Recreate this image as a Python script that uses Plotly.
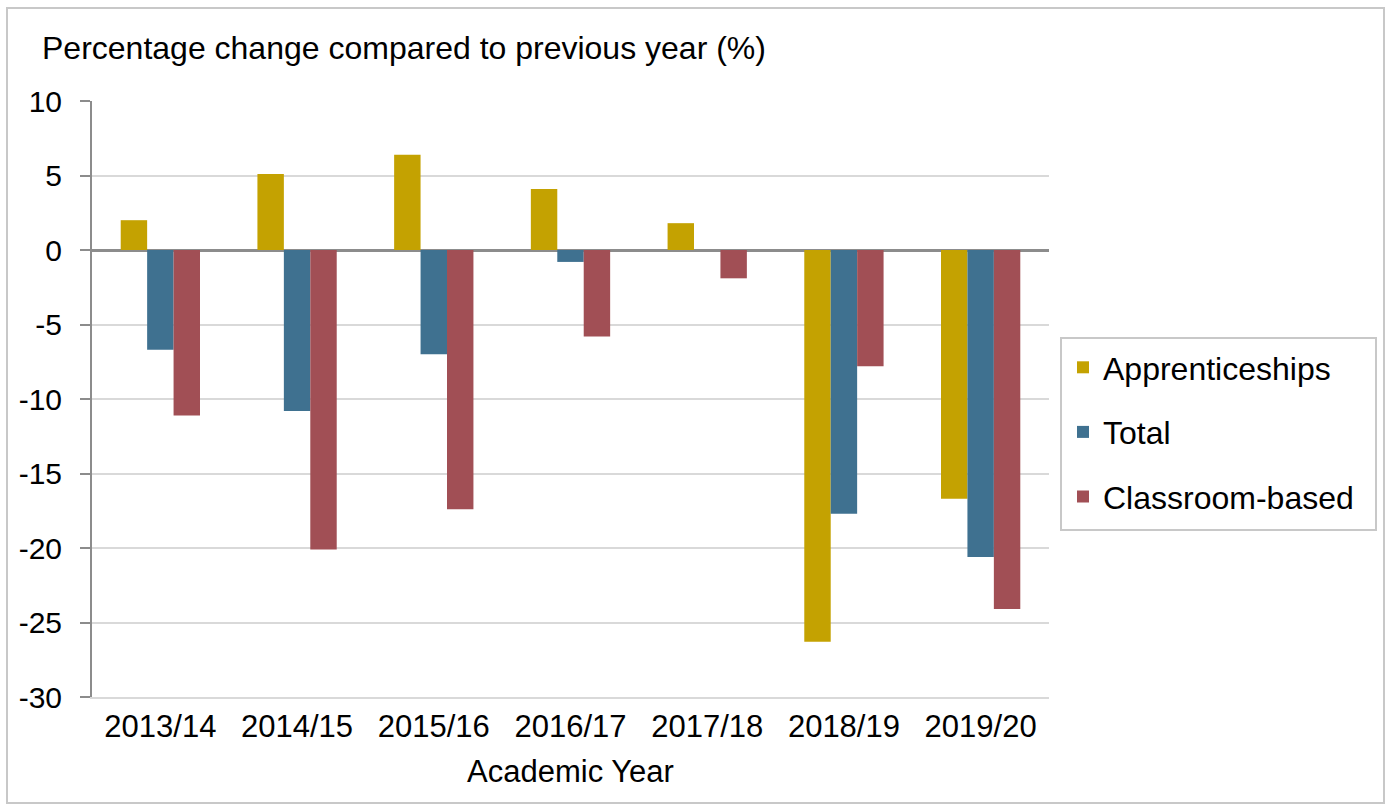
import plotly.graph_objects as go

# Academic years on the category axis
years = ["2013/14", "2014/15", "2015/16", "2016/17", "2017/18", "2018/19", "2019/20"]

# Percentage change compared to the previous year, per provision type
apprenticeships = [2.0, 5.1, 6.4, 4.1, 1.8, -26.3, -16.7]
total = [-6.7, -10.8, -7.0, -0.8, 0.0, -17.7, -20.6]
classroom_based = [-11.1, -20.1, -17.4, -5.8, -1.9, -7.8, -24.1]

y_ticks = [10, 5, 0, -5, -10, -15, -20, -25, -30]

W, H = 1392, 810
L, R, T, B = 92, 1049, 101, 697  # plot area in pixels
FONT = "Liberation Sans, Arial, sans-serif"


def px_x(p):
    return (p - L) / (R - L)


def px_y(p):
    return (B - p) / (B - T)


series = [
    ("Apprenticeships", apprenticeships, "#C4A201"),
    ("Total", total, "#3F7190"),
    ("Classroom-based", classroom_based, "#A14F55"),
]

fig = go.Figure()
for i, (name, vals, col) in enumerate(series):
    fig.add_trace(go.Bar(
        x=years, y=vals, name=name, legendgroup=f"g{i}",
        marker=dict(color=col, line=dict(width=0)),
    ))

fig.update_layout(
    width=W, height=H,
    margin=dict(l=L, r=W - R, t=T, b=H - B, autoexpand=False),
    paper_bgcolor="white", plot_bgcolor="white",
    barmode="group", bargap=0.42, bargroupgap=0,
    font=dict(family=FONT, color="#000000", size=31),
    showlegend=True,
    legend=dict(
        x=px_x(1063), y=px_y(340), xanchor="left", yanchor="top",
        xref="paper", yref="paper",
        borderwidth=0, bgcolor="rgba(0,0,0,0)",
        font=dict(family=FONT, size=32, color="#000000"),
        tracegroupgap=20, itemwidth=30,
    ),
    xaxis=dict(
        showgrid=False, showline=True, linecolor="#D9D9D9", linewidth=2,
        ticks="", tickfont=dict(size=31), ticklabelstandoff=1,
        title=dict(text="Academic Year", font=dict(size=31), standoff=17),
    ),
    yaxis=dict(
        range=[-30, 10], tickvals=y_ticks, ticktext=[str(v) for v in y_ticks],
        showgrid=True, gridcolor="#D9D9D9", gridwidth=2,
        zeroline=True, zerolinecolor="#8C8C8C", zerolinewidth=3,
        showline=True, linecolor="#8C8C8C", linewidth=2,
        ticks="outside", ticklen=10, tickcolor="#8C8C8C", tickwidth=2,
        tickfont=dict(size=30), ticklabelstandoff=12,
    ),
    annotations=[dict(
        text="Percentage change compared to previous year (%)",
        xref="paper", yref="paper", x=px_x(40), y=px_y(48),
        xanchor="left", yanchor="middle", showarrow=False,
        font=dict(family=FONT, size=32, color="#000000"),
    )],
    shapes=[
        # outer chart border
        dict(
            type="rect", xref="paper", yref="paper",
            x0=px_x(7), x1=px_x(1384), y0=px_y(803), y1=px_y(8),
            line=dict(color="#C8C8C8", width=2), fillcolor="rgba(0,0,0,0)",
            layer="below",
        ),
        # legend frame
        dict(
            type="rect", xref="paper", yref="paper",
            x0=px_x(1061), x1=px_x(1376), y0=px_y(530), y1=px_y(338),
            line=dict(color="#C8C8C8", width=2), fillcolor="white",
            layer="below",
        ),
    ],
)

fig.write_html("out.html")
